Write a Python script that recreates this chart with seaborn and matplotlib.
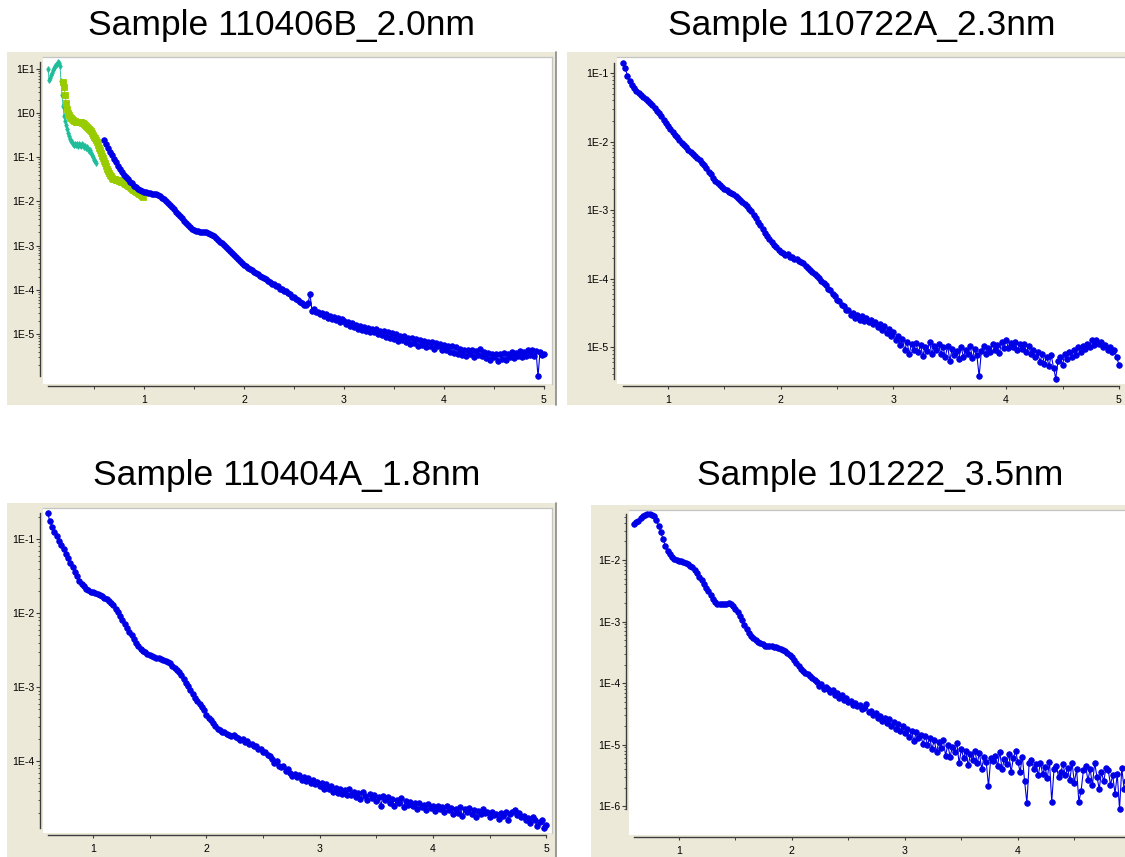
import numpy as np
import matplotlib
matplotlib.use("Agg")
import matplotlib.pyplot as plt
from matplotlib.patches import Rectangle
from matplotlib.lines import Line2D
from matplotlib.ticker import FixedLocator, FuncFormatter, NullFormatter
import seaborn as sns

# ---------------------------------------------------------------- data
titles = ["Sample 110406B_2.0nm", "Sample 110722A_2.3nm",
          "Sample 110404A_1.8nm", "Sample 101222_3.5nm"]

# Sample 110406B: three scattering segments (log10 intensity on a uniform q grid)
s1_teal_q0, s1_teal_step = 0.04, 0.01
s1_teal_logI = [
    1.00, 0.76, 0.80, 0.86, 0.90, 0.98, 1.02, 1.06, 1.08, 1.12,
    1.16, 1.14, 1.06, 0.72, 0.42, 0.16, -0.06, -0.18, -0.27, -0.36,
    -0.44, -0.52, -0.58, -0.63, -0.66, -0.70, -0.72, -0.69, -0.73, -0.71,
    -0.74, -0.70, -0.72, -0.75, -0.70, -0.73, -0.76, -0.74, -0.79, -0.77,
    -0.82, -0.86, -0.84, -0.90, -0.95, -1.00, -1.05, -1.09, -1.13]

s1_green_q0, s1_green_step = 0.19, 0.01
s1_green_logI = [
    0.70, 0.58, 0.42, 0.24, 0.10, 0.00, -0.05, -0.09, -0.12, -0.14,
    -0.16, -0.17, -0.18, -0.19, -0.19, -0.20, -0.20, -0.21, -0.21, -0.22,
    -0.23, -0.25, -0.27, -0.29, -0.31, -0.33, -0.35, -0.38, -0.41, -0.45,
    -0.49, -0.53, -0.57, -0.61, -0.66, -0.72, -0.78, -0.84, -0.90, -0.96,
    -1.02, -1.08, -1.14, -1.20, -1.26, -1.31, -1.36, -1.40, -1.43, -1.46,
    -1.48, -1.49, -1.50, -1.51, -1.51, -1.52, -1.53, -1.54, -1.55, -1.56,
    -1.57, -1.58, -1.60, -1.61, -1.63, -1.65, -1.66, -1.68, -1.70, -1.71,
    -1.73, -1.75, -1.76, -1.78, -1.79, -1.81, -1.82, -1.84, -1.85, -1.87, -1.89]

s1_blue_q0, s1_blue_step = 0.60, 0.02
s1_blue_logI = [
    -0.61, -0.70, -0.79, -0.87, -0.95, -1.03, -1.11, -1.19, -1.27, -1.33,
    -1.39, -1.45, -1.50, -1.55, -1.59, -1.64, -1.68, -1.71, -1.74, -1.76,
    -1.78, -1.79, -1.80, -1.81, -1.82, -1.83, -1.84, -1.86, -1.88, -1.91,
    -1.94, -1.98, -2.03, -2.08, -2.13, -2.18, -2.23, -2.28, -2.33, -2.38,
    -2.43, -2.48, -2.53, -2.58, -2.62, -2.65, -2.66, -2.67, -2.68, -2.68,
    -2.69, -2.70, -2.71, -2.73, -2.76, -2.79, -2.83, -2.87, -2.91, -2.95,
    -2.99, -3.03, -3.08, -3.12, -3.17, -3.21, -3.25, -3.30, -3.35, -3.40,
    -3.44, -3.47, -3.50, -3.53, -3.56, -3.59, -3.62, -3.65, -3.68, -3.71,
    -3.74, -3.76, -3.81, -3.82, -3.86, -3.87, -3.91, -3.92, -3.97, -3.98,
    -4.03, -4.03, -4.08, -4.09, -4.15, -4.15, -4.20, -4.22, -4.28, -4.29,
    -4.35, -4.34, -4.30, -4.10, -4.47, -4.44, -4.50, -4.49, -4.55, -4.52,
    -4.60, -4.55, -4.64, -4.58, -4.66, -4.61, -4.68, -4.63, -4.72, -4.67,
    -4.70, -4.78, -4.73, -4.82, -4.76, -4.85, -4.80, -4.89, -4.82, -4.90,
    -4.84, -4.93, -4.86, -4.95, -4.88, -4.96, -4.89, -4.99, -4.92, -5.02,
    -4.94, -5.06, -4.96, -5.10, -4.98, -5.12, -5.00, -5.15, -5.04, -5.13,
    -5.05, -5.18, -5.08, -5.22, -5.10, -5.20, -5.12, -5.27, -5.14, -5.24,
    -5.15, -5.30, -5.17, -5.26, -5.19, -5.33, -5.21, -5.28, -5.22, -5.36,
    -5.24, -5.35, -5.27, -5.40, -5.28, -5.42, -5.30, -5.45, -5.33, -5.47,
    -5.36, -5.50, -5.37, -5.46, -5.35, -5.52, -5.38, -5.48, -5.33, -5.50,
    -5.40, -5.55, -5.42, -5.58, -5.44, -5.53, -5.46, -5.60, -5.45, -5.56,
    -5.43, -5.58, -5.46, -5.52, -5.40, -5.55, -5.42, -5.50, -5.38, -5.53,
    -5.40, -5.50, -5.37, -5.48, -5.36, -5.50, -5.38, -5.96, -5.40, -5.47,
    -5.45]

# Sample 110722A
s2_q0, s2_step = 0.60, 0.02
s2_logI = [
    -0.85, -0.93, -1.04, -1.12, -1.18, -1.22, -1.26, -1.29, -1.32, -1.35,
    -1.38, -1.41, -1.44, -1.47, -1.51, -1.55, -1.59, -1.63, -1.68, -1.73,
    -1.77, -1.81, -1.86, -1.90, -1.94, -1.98, -2.02, -2.05, -2.08, -2.12,
    -2.15, -2.18, -2.21, -2.24, -2.27, -2.31, -2.35, -2.39, -2.44, -2.48,
    -2.53, -2.57, -2.60, -2.63, -2.66, -2.69, -2.71, -2.73, -2.75, -2.77,
    -2.79, -2.82, -2.85, -2.88, -2.91, -2.94, -2.98, -3.02, -3.07, -3.12,
    -3.17, -3.22, -3.28, -3.33, -3.38, -3.43, -3.47, -3.51, -3.54, -3.58,
    -3.61, -3.63, -3.66, -3.64, -3.68, -3.69, -3.71, -3.72, -3.74, -3.76,
    -3.78, -3.81, -3.84, -3.87, -3.90, -3.93, -3.96, -3.99, -4.03, -4.06,
    -4.10, -4.15, -4.17, -4.23, -4.25, -4.31, -4.33, -4.39, -4.40, -4.46,
    -4.46, -4.53, -4.50, -4.58, -4.53, -4.60, -4.55, -4.62, -4.57, -4.64,
    -4.60, -4.67, -4.63, -4.71, -4.66, -4.75, -4.70, -4.79, -4.74, -4.84,
    -4.78, -4.90, -4.84, -4.97, -4.89, -5.05, -4.92, -5.10, -4.95, -5.04,
    -4.94, -5.08, -4.97, -5.13, -5.00, -5.06, -4.93, -5.10, -4.98, -5.05,
    -4.96, -5.10, -5.00, -5.15, -4.98, -5.20, -5.03, -5.12, -5.06, -5.18,
    -5.00, -5.14, -5.05, -5.10, -4.98, -5.16, -5.03, -5.12, -5.43, -5.06,
    -4.98, -5.10, -5.02, -5.08, -4.95, -5.04, -4.97, -5.09, -4.92, -5.02,
    -4.90, -5.02, -4.94, -5.00, -4.92, -5.05, -4.96, -5.03, -4.95, -5.08,
    -4.98, -5.10, -5.05, -5.15, -5.08, -5.22, -5.10, -5.25, -5.14, -5.28,
    -5.12, -5.30, -5.46, -5.20, -5.15, -5.26, -5.10, -5.18, -5.08, -5.14,
    -5.04, -5.12, -5.00, -5.08, -4.98, -5.03, -4.95, -5.00, -4.90, -4.97,
    -4.90, -4.96, -4.93, -5.00, -4.97, -5.05, -5.00, -5.08, -5.04, -5.14,
    -5.26]

# Sample 110404A
s3_q0, s3_step = 0.60, 0.02
s3_logI = [
    -0.65, -0.76, -0.83, -0.90, -0.96, -1.02, -1.08, -1.14, -1.20, -1.26,
    -1.32, -1.38, -1.44, -1.50, -1.56, -1.60, -1.64, -1.67, -1.69, -1.71,
    -1.72, -1.73, -1.74, -1.75, -1.77, -1.79, -1.81, -1.83, -1.86, -1.89,
    -1.94, -1.99, -2.04, -2.09, -2.15, -2.20, -2.25, -2.30, -2.35, -2.40,
    -2.44, -2.48, -2.51, -2.53, -2.55, -2.57, -2.58, -2.59, -2.60, -2.61,
    -2.62, -2.63, -2.64, -2.66, -2.68, -2.71, -2.74, -2.77, -2.80, -2.84,
    -2.89, -2.94, -2.99, -3.04, -3.09, -3.14, -3.19, -3.23, -3.27, -3.31,
    -3.37, -3.41, -3.45, -3.49, -3.53, -3.56, -3.58, -3.60, -3.61, -3.63,
    -3.64, -3.66, -3.65, -3.68, -3.69, -3.71, -3.70, -3.74, -3.73, -3.77,
    -3.77, -3.80, -3.79, -3.83, -3.84, -3.87, -3.87, -3.92, -3.93, -3.97,
    -4.02, -4.00, -4.06, -4.08, -4.07, -4.13, -4.10, -4.16, -4.20, -4.17,
    -4.22, -4.19, -4.25, -4.21, -4.27, -4.23, -4.29, -4.25, -4.31, -4.28,
    -4.33, -4.29, -4.37, -4.31, -4.38, -4.34, -4.42, -4.36, -4.43, -4.38,
    -4.44, -4.39, -4.46, -4.37, -4.45, -4.41, -4.49, -4.43, -4.51, -4.42,
    -4.47, -4.52, -4.44, -4.50, -4.46, -4.54, -4.48, -4.60, -4.47, -4.52,
    -4.49, -4.56, -4.51, -4.60, -4.53, -4.57, -4.50, -4.62, -4.54, -4.59,
    -4.55, -4.61, -4.57, -4.64, -4.56, -4.62, -4.59, -4.66, -4.58, -4.63,
    -4.60, -4.67, -4.61, -4.65, -4.62, -4.69, -4.60, -4.66, -4.63, -4.71,
    -4.64, -4.70, -4.62, -4.74, -4.65, -4.68, -4.63, -4.71, -4.66, -4.76,
    -4.67, -4.72, -4.65, -4.70, -4.68, -4.75, -4.69, -4.73, -4.71, -4.78,
    -4.70, -4.74, -4.68, -4.79, -4.72, -4.69, -4.66, -4.73, -4.70, -4.76,
    -4.74, -4.79, -4.77, -4.83, -4.76, -4.80, -4.88, -4.82, -4.79, -4.90,
    -4.86]

# Sample 101222
s4_q0, s4_step = 0.60, 0.02
s4_logI = [
    -1.42, -1.39, -1.36, -1.32, -1.29, -1.27, -1.26, -1.26, -1.27, -1.29,
    -1.35, -1.44, -1.55, -1.66, -1.77, -1.85, -1.91, -1.95, -1.98, -2.00,
    -2.01, -2.02, -2.03, -2.05, -2.07, -2.09, -2.12, -2.16, -2.21, -2.27,
    -2.33, -2.39, -2.45, -2.51, -2.57, -2.63, -2.68, -2.71, -2.72, -2.72,
    -2.71, -2.71, -2.70, -2.72, -2.74, -2.79, -2.85, -2.91, -2.98, -3.05,
    -3.12, -3.18, -3.23, -3.27, -3.30, -3.33, -3.35, -3.37, -3.39, -3.39,
    -3.40, -3.40, -3.41, -3.42, -3.43, -3.45, -3.46, -3.48, -3.51, -3.54,
    -3.58, -3.63, -3.68, -3.73, -3.77, -3.80, -3.83, -3.86, -3.89, -3.92,
    -3.95, -3.98, -4.05, -4.02, -4.09, -4.06, -4.10, -4.15, -4.12, -4.19,
    -4.16, -4.24, -4.20, -4.27, -4.25, -4.31, -4.29, -4.35, -4.33, -4.38,
    -4.36, -4.42, -4.40, -4.34, -4.47, -4.45, -4.52, -4.49, -4.56, -4.53,
    -4.62, -4.57, -4.65, -4.59, -4.70, -4.64, -4.74, -4.67, -4.78, -4.70,
    -4.82, -4.74, -4.88, -4.78, -4.95, -4.80, -4.90, -4.84, -4.99, -4.86,
    -5.00, -4.90, -5.07, -4.93, -5.12, -4.96, -5.05, -4.92, -5.18, -5.00,
    -5.20, -5.04, -5.12, -4.98, -5.30, -5.08, -5.22, -5.10, -5.34, -5.16,
    -5.25, -5.10, -5.30, -5.14, -5.40, -5.20, -5.28, -5.68, -5.22, -5.26,
    -5.18, -5.35, -5.12, -5.40, -5.24, -5.32, -5.15, -5.45, -5.22, -5.10,
    -5.28, -5.44, -5.20, -5.60, -5.95, -5.30, -5.25, -5.40, -5.32, -5.50,
    -5.30, -5.48, -5.36, -5.55, -5.28, -5.93, -5.40, -5.35, -5.52, -5.45,
    -5.32, -5.50, -5.38, -5.58, -5.30, -5.62, -5.40, -5.93, -5.75, -5.42,
    -5.35, -5.58, -5.40, -5.66, -5.30, -5.52, -5.72, -5.45, -5.60, -5.38,
    -5.42, -5.65, -5.50, -5.80, -5.48, -6.05, -5.38, -5.72, -5.60, -5.55,
    -5.50]

x_tick_values = [1, 2, 3, 4, 5]


def q_grid(q0, step, n):
    return np.round(q0 + step * np.arange(n), 4)


# ---------------------------------------------------------------- style
sns.set_style("white")
plt.rcParams["font.family"] = ["Liberation Sans", "DejaVu Sans"]

W, H = 1125, 857
FRAME = "#ECE9D8"
AXIS = "#3C3C3C"
BORDER = "#C4C4C4"
BLUE = "#0000E6"
GREEN = "#99CC00"
TEAL = "#1EBE9A"

fig = plt.figure(figsize=(W / 100, H / 100), dpi=100)
fig.patch.set_facecolor("white")


def fig_box(x0, y0, x1, y1):
    return [x0 / W, 1 - y1 / H, (x1 - x0) / W, (y1 - y0) / H]


def decade_label(v, pos):
    return f"1E{int(np.round(np.log10(v)))}"


panels = [
    dict(title_xy=(281, 25), frame=(7, 52, 556, 405), area=(43, 57, 552, 384),
         xlim=(-0.01, 5.08), ylog=(-6.13, 1.27), right_edge=True),
    dict(title_xy=(862, 25), frame=(567, 52, 1135, 405), area=(617, 57, 1135, 384),
         xlim=(0.547, 5.143), ylog=(-5.54, -0.766), right_edge=False),
    dict(title_xy=(287, 475), frame=(7, 503, 556, 860), area=(43, 508, 552, 833),
         xlim=(0.559, 5.05), ylog=(-4.97, -0.58), right_edge=True),
    dict(title_xy=(880, 475), frame=(591, 505, 1135, 860), area=(629, 510, 1128, 835),
         xlim=(0.558, 4.975), ylog=(-6.47, -1.187), right_edge=False),
]

series = [
    [(s1_teal_q0, s1_teal_step, s1_teal_logI, TEAL, "d", 3.0, 0.6),
     (s1_green_q0, s1_green_step, s1_green_logI, GREEN, "s", 3.8, 0.7),
     (s1_blue_q0, s1_blue_step, s1_blue_logI, BLUE, "o", 4.0, 0.8)],
    [(s2_q0, s2_step, s2_logI, BLUE, "o", 4.0, 0.8)],
    [(s3_q0, s3_step, s3_logI, BLUE, "o", 4.0, 0.8)],
    [(s4_q0, s4_step, s4_logI, BLUE, "o", 4.0, 0.8)],
]

for title, cfg, group in zip(titles, panels, series):
    fx0, fy0, fx1, fy1 = cfg["frame"]
    fig.add_artist(Rectangle((fx0 / W, 1 - fy1 / H), (fx1 - fx0) / W, (fy1 - fy0) / H,
                             transform=fig.transFigure, facecolor=FRAME,
                             edgecolor="none", zorder=-5))
    if cfg["right_edge"]:
        fig.add_artist(Line2D([(fx1 - 0.5) / W] * 2, [1 - fy1 / H, 1 - fy0 / H],
                              transform=fig.transFigure, color="#8A8A86",
                              lw=1.2, zorder=-4))

    ax = fig.add_axes(fig_box(*cfg["area"]))
    ax.set_facecolor("white")
    ax.set_yscale("log")

    qmin, qmax, lmin, lmax = np.inf, -np.inf, np.inf, -np.inf
    for q0, step, logI, color, marker, ms, lw in group:
        q = q_grid(q0, step, len(logI))
        inten = 10.0 ** np.asarray(logI)
        sns.lineplot(x=q, y=inten, ax=ax, color=color, linewidth=lw,
                     marker=marker, markersize=ms, markeredgewidth=0.6,
                     markeredgecolor=color, markerfacecolor=color,
                     estimator=None, sort=False, legend=False)
        qmin, qmax = min(qmin, q.min()), max(qmax, q.max())
        lmin, lmax = min(lmin, min(logI)), max(lmax, max(logI))

    ax.set_xlim(*cfg["xlim"])
    ax.set_ylim(10 ** cfg["ylog"][0], 10 ** cfg["ylog"][1])
    ax.set_xlabel("")
    ax.set_ylabel("")

    # axis lines sit just outside the plotting area and span the data only
    for side in ("top", "right"):
        ax.spines[side].set_color(BORDER)
        ax.spines[side].set_linewidth(0.9)
    ax.spines["left"].set_position(("outward", 2.2))
    ax.spines["bottom"].set_position(("outward", 1.6))
    for side in ("left", "bottom"):
        ax.spines[side].set_color(AXIS)
        ax.spines[side].set_linewidth(1.0)
    ax.spines["bottom"].set_bounds(qmin, min(qmax, cfg["xlim"][1]))
    ax.spines["left"].set_bounds(10 ** lmin, 10 ** lmax)

    # ticks only along the drawn axis lines
    xhi = min(qmax, cfg["xlim"][1]) + 1e-9
    ax.xaxis.set_major_locator(FixedLocator([t for t in x_tick_values if qmin <= t <= xhi]))
    ax.xaxis.set_minor_locator(FixedLocator(
        [t for t in np.arange(0.5, 5.01, 1.0) if qmin <= t <= xhi]))
    decades = [10.0 ** k for k in range(-8, 3) if lmin - 1e-9 <= k <= lmax + 1e-9]
    minors = [m * 10.0 ** k for k in range(-8, 3) for m in range(2, 10)
              if lmin <= np.log10(m) + k <= lmax]
    ax.yaxis.set_major_locator(FixedLocator(decades))
    ax.yaxis.set_major_formatter(FuncFormatter(decade_label))
    ax.yaxis.set_minor_locator(FixedLocator(minors))
    ax.yaxis.set_minor_formatter(NullFormatter())

    ax.tick_params(axis="both", which="both", direction="out", color=AXIS,
                   labelcolor="black", left=True, bottom=True)
    ax.tick_params(axis="y", which="major", length=3.0, width=0.8, pad=0.8,
                   labelsize=7.6)
    ax.tick_params(axis="y", which="minor", length=1.8, width=0.6)
    ax.tick_params(axis="x", which="major", length=2.4, width=0.8, pad=4.2,
                   labelsize=7.6)
    ax.tick_params(axis="x", which="minor", length=2.0, width=0.7)

    tx, ty = cfg["title_xy"]
    fig.text(tx / W, 1 - ty / H, title, ha="center", va="center",
             fontsize=25.5, color="black")

fig.savefig("out.png", dpi=100)
